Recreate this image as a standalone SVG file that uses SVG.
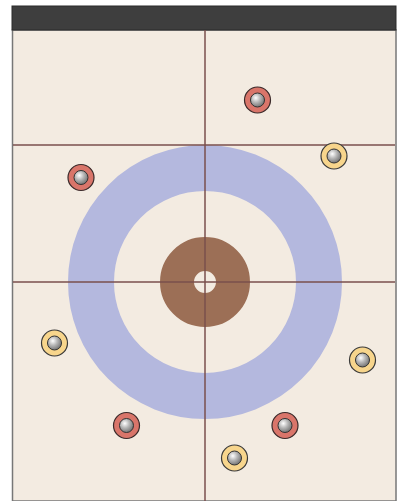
<svg xmlns="http://www.w3.org/2000/svg" width="406" height="501" viewBox="0 0 406 501">
<defs>
<radialGradient id="g" cx="0.38" cy="0.35" r="0.7">
<stop offset="0" stop-color="#ffffff"/>
<stop offset="0.45" stop-color="#b8b8b8"/>
<stop offset="1" stop-color="#6e6e6e"/>
</radialGradient>
<style>
.red{fill:#d9756a;stroke:#3a2a2a;stroke-width:1.2}
.yel{fill:#f7d58c;stroke:#3a3a3a;stroke-width:1.2}
.core{fill:url(#g);stroke:#333;stroke-width:1}
.line{stroke:#7a4f4c;stroke-width:1.5}
</style>
</defs>
<rect width="406" height="501" fill="#ffffff"/>
<rect x="12.5" y="30" width="383.5" height="471" fill="#f3ebe1" stroke="#777" stroke-width="1.5"/>
<rect x="12" y="6" width="384" height="24" fill="#3e3e3e" stroke="#2a2a2a" stroke-width="1"/>
<g id="house">
<circle cx="205" cy="282" r="114" fill="none" stroke="#b4b8de" stroke-width="46"/>
<circle cx="205" cy="282" r="28" fill="none" stroke="#9c6f56" stroke-width="34"/>
</g>
<g id="lines">
<line class="line" x1="205" y1="30" x2="205" y2="501"/>
<line class="line" x1="13" y1="145" x2="395" y2="145"/>
<line class="line" x1="13" y1="282" x2="395" y2="282"/>
</g>
<g id="stone-r1"><circle class="red" cx="257.5" cy="100" r="13"/><circle class="core" cx="257.5" cy="100" r="7"/></g>
<g id="stone-r2"><circle class="red" cx="81" cy="177.5" r="13"/><circle class="core" cx="81" cy="177.5" r="7"/></g>
<g id="stone-r3"><circle class="red" cx="126.5" cy="425.5" r="13"/><circle class="core" cx="126.5" cy="425.5" r="7"/></g>
<g id="stone-r4"><circle class="red" cx="285" cy="425.5" r="13"/><circle class="core" cx="285" cy="425.5" r="7"/></g>
<g id="stone-y1"><circle class="yel" cx="334" cy="156" r="13"/><circle class="core" cx="334" cy="156" r="7"/></g>
<g id="stone-y2"><circle class="yel" cx="54.5" cy="343" r="13"/><circle class="core" cx="54.5" cy="343" r="7"/></g>
<g id="stone-y3"><circle class="yel" cx="362.5" cy="360" r="13"/><circle class="core" cx="362.5" cy="360" r="7"/></g>
<g id="stone-y4"><circle class="yel" cx="234.5" cy="458" r="13"/><circle class="core" cx="234.5" cy="458" r="7"/></g>
</svg>
